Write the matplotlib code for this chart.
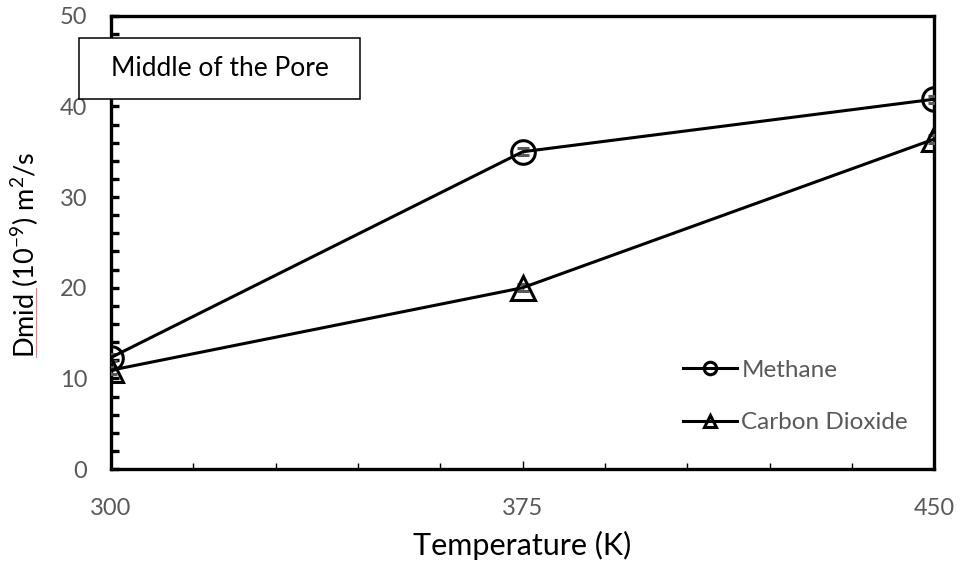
import matplotlib.pyplot as plt
from matplotlib.lines import Line2D
from matplotlib.patches import Rectangle
from matplotlib.ticker import MultipleLocator

temperature = [300, 375, 450]
methane = [12.3, 35.0, 40.8]
carbon_dioxide = [10.9, 20.0, 36.4]
methane_err = [0.4, 0.4, 0.4]
co2_err = [0.4, 0.4, 0.4]

plt.rcParams['font.family'] = ['Lato', 'DejaVu Sans']
plt.rcParams['mathtext.default'] = 'regular'
grey = '#595959'

fig = plt.figure(figsize=(9.6, 5.69), dpi=100)
ax = fig.add_axes([0.1156, 0.1757, 0.8575, 0.7965])

ax.errorbar(temperature, methane, yerr=methane_err, color='black', lw=2.2,
            marker='o', ms=17, mfc='none', mew=2.2, ecolor=grey, elinewidth=1,
            capsize=4, zorder=3)
ax.errorbar(temperature, carbon_dioxide, yerr=co2_err, color='black', lw=2.2,
            marker='^', ms=17, mfc='none', mew=2.2, ecolor=grey, elinewidth=1,
            capsize=4, zorder=3)

ax.set_xlim(300, 450)
ax.set_ylim(0, 50)
ax.set_xticks(temperature)
ax.xaxis.set_minor_locator(MultipleLocator(15))
ax.yaxis.set_major_locator(MultipleLocator(10))
ax.yaxis.set_minor_locator(MultipleLocator(2))

for side in ax.spines.values():
    side.set_linewidth(2.4)
ax.tick_params(axis='x', which='major', direction='in', length=6, width=1,
               pad=21, labelsize=17, labelcolor=grey)
ax.tick_params(axis='x', which='minor', direction='in', length=4, width=1)
ax.tick_params(axis='y', which='major', direction='in', length=6, width=2.4,
               pad=17, labelsize=17, labelcolor=grey)
ax.tick_params(axis='y', which='minor', direction='in', length=6, width=2.4)

ax.set_xlabel('Temperature (K)', fontsize=22)
ax.xaxis.set_label_coords(0.5, -0.168)
ax.xaxis.label.set_va('center')
ax.set_ylabel('Dmid (10$^{-9}$) m$^{2}$/s', fontsize=19.5)
ax.yaxis.set_label_coords(-0.104, 0.474)
ax.yaxis.label.set_va('center')
# spell-check underline beneath "Dmid"
fig.add_artist(Line2D([0.0375, 0.0375], [1 - 357 / 569, 1 - 288 / 569],
                      color='#f08080', lw=0.8))

# caption box
fig.add_artist(Rectangle((0.0823, 0.826), 0.2927, 0.1072, fc='white',
                         ec='black', lw=1.1, zorder=5))
fig.text(0.2286, 0.8796, 'Middle of the Pore', fontsize=19,
         ha='center', va='center', zorder=6)

handles = [
    Line2D([], [], color='black', lw=2.2, marker='o', ms=9, mfc='none', mew=2.2),
    Line2D([], [], color='black', lw=2.2, marker='^', ms=9, mfc='none', mew=2.2),
]
leg = ax.legend(handles, ['Methane', 'Carbon Dioxide'], loc='upper left',
                bbox_to_anchor=(0.7115, 0.368), bbox_transform=fig.transFigure,
                frameon=False, fontsize=17.5, handlelength=2.2,
                handletextpad=0.2, labelspacing=1.3, borderpad=0,
                borderaxespad=0)
for t in leg.get_texts():
    t.set_color(grey)

fig.savefig('out.png', dpi=100)
